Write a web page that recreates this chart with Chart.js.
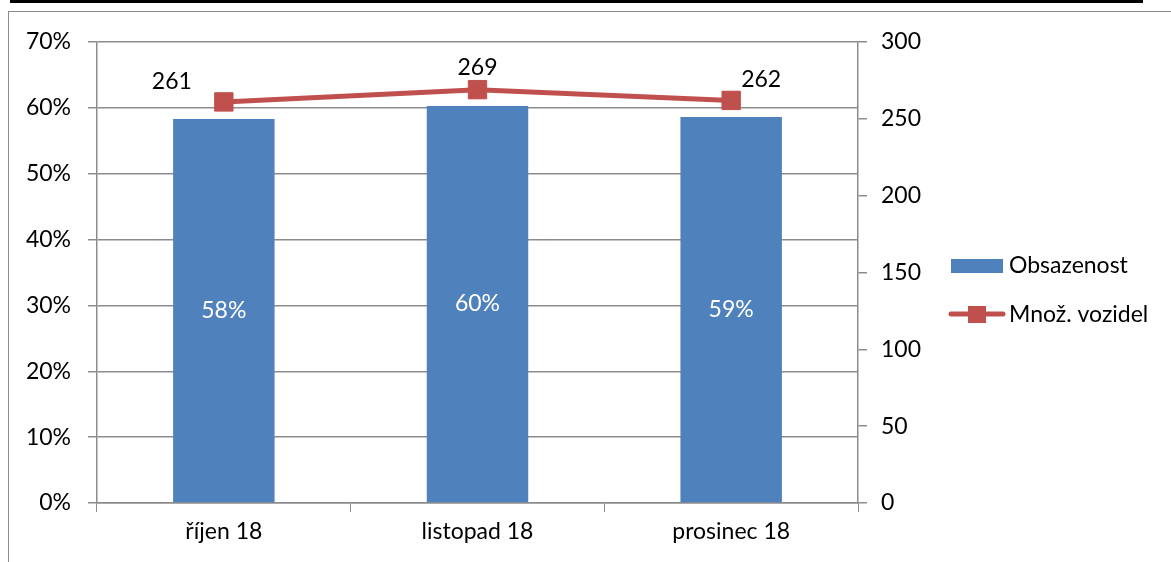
<!DOCTYPE html>
<html>
<head>
<meta charset="utf-8">
<script src="https://cdn.jsdelivr.net/npm/chart.js@4"></script>
<style>
  html, body { margin: 0; padding: 0; background: #fff; }
  #wrap { position: relative; width: 1171px; height: 562px; overflow: hidden; }
  #topline { position: absolute; left: 10px; top: 0; width: 1133px; height: 3px; background: #000; }
  #frame { position: absolute; left: 8px; top: 11px; width: 1200px; height: 600px; border: 1px solid #8c8c8c; }
  #c { position: absolute; left: 0; top: 0; }
</style>
</head>
<body>
<div id="wrap">
  <div id="topline"></div>
  <div id="frame"></div>
  <canvas id="c" width="1171" height="562"></canvas>
</div>
<script>
// chart values
const months = ['říjen 18', 'listopad 18', 'prosinec 18'];
const occupancy = [58.3, 60.3, 58.6];   // Obsazenost (%)
const vehicles = [261, 269, 262];       // Množ. vozidel
const pctTicks = [0, 10, 20, 30, 40, 50, 60, 70];
const countTicks = [0, 50, 100, 150, 200, 250, 300];

const FONT = 'Lato, "Open Sans", sans-serif';
const FSIZE = 23;
const BLUE = '#4F81BD';
const RED = '#C0504D';
const GRID = '#8c8c8c';

// data labels drawn by hand (no datalabels plugin)
const labelPlugin = {
    id: 'labels',
    afterDatasetsDraw(chart) {
        const ctx = chart.ctx;
        ctx.save();
        ctx.font = FSIZE + 'px ' + FONT;
        ctx.textAlign = 'center';
        ctx.textBaseline = 'middle';
        // bar labels, white in the middle of the bar
        chart.getDatasetMeta(0).data.forEach((bar, i) => {
            ctx.fillStyle = '#fff';
            ctx.fillText(Math.round(occupancy[i]) + '%', bar.x, (bar.y + bar.base) / 2);
        });
        // line labels, nudged like in the original
        const nudge = [[-52, -20], [0, -22], [30, -21]];
        chart.getDatasetMeta(1).data.forEach((pt, i) => {
            ctx.fillStyle = '#000';
            ctx.fillText(vehicles[i], pt.x + nudge[i][0], pt.y + nudge[i][1]);
        });
        ctx.restore();
    }
};

// legend on the right
const legendPlugin = {
    id: 'sideLegend',
    afterDraw(chart) {
        const ctx = chart.ctx;
        ctx.save();
        ctx.fillStyle = BLUE;
        ctx.fillRect(951, 259, 52, 14);
        ctx.strokeStyle = RED;
        ctx.lineWidth = 5;
        ctx.lineCap = 'round';
        ctx.beginPath();
        ctx.moveTo(951, 314);
        ctx.lineTo(1003, 314);
        ctx.stroke();
        ctx.fillStyle = RED;
        ctx.fillRect(968, 306, 18, 17);
        ctx.fillStyle = '#000';
        ctx.font = FSIZE + 'px ' + FONT;
        ctx.textBaseline = 'middle';
        ctx.fillText('Obsazenost', 1009, 266);
        ctx.fillText('Množ. vozidel', 1009, 315);
        ctx.restore();
    }
};

new Chart(document.getElementById('c'), {
    type: 'bar',
    data: {
        labels: months,
        datasets: [{
            label: 'Obsazenost',
            data: occupancy,
            backgroundColor: BLUE,
            yAxisID: 'y',
            barPercentage: 0.4,
            categoryPercentage: 1,
            order: 2
        }, {
            type: 'line',
            label: 'Množ. vozidel',
            data: vehicles,
            borderColor: RED,
            backgroundColor: RED,
            borderWidth: 5,
            pointStyle: 'rect',
            pointRadius: 13,
            pointBorderWidth: 1,
            yAxisID: 'y1',
            order: 1
        }]
    },
    options: {
        responsive: false,
        animation: false,
        layout: { padding: { top: 42, left: 0, right: 223, bottom: 0 } },
        plugins: {
            legend: { display: false },
            tooltip: { enabled: false }
        },
        scales: {
            x: {
                grid: { drawOnChartArea: false, color: GRID, tickLength: 9, offset: true },
                border: { color: GRID, width: 1.5 },
                ticks: { color: '#000', font: { family: FONT, size: FSIZE }, padding: 6 },
                afterFit(s) { s.height = 59; }
            },
            y: {
                position: 'left',
                min: 0, max: 70,
                afterBuildTicks(s) { s.ticks = pctTicks.map(v => ({ value: v })); },
                grid: { color: GRID, lineWidth: 1.5, tickLength: 9 },
                border: { color: GRID, width: 1.5 },
                ticks: { color: '#000', font: { family: FONT, size: FSIZE }, padding: 17, callback: v => v + '%' },
                afterFit(s) { s.width = 97; }
            },
            y1: {
                position: 'right',
                min: 0, max: 300,
                afterBuildTicks(s) { s.ticks = countTicks.map(v => ({ value: v })); },
                grid: { drawOnChartArea: false, color: GRID, lineWidth: 1.5, tickLength: 9 },
                border: { color: GRID, width: 1.5 },
                ticks: { color: '#000', font: { family: FONT, size: FSIZE }, padding: 14 },
                afterFit(s) { s.width = 90; }
            }
        }
    },
    plugins: [labelPlugin, legendPlugin]
});
</script>
</body>
</html>
